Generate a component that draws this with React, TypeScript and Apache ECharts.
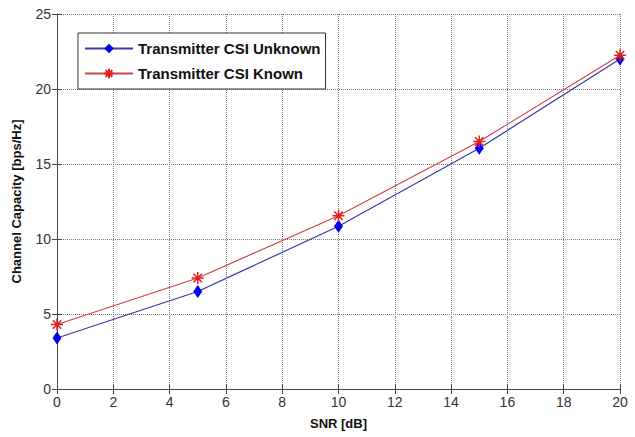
import React, { useEffect, useRef } from "react";
import * as echarts from "echarts";

const snr = [0, 5, 10, 15, 20];
const csiUnknown = [3.4, 6.5, 10.85, 16.05, 22.0];
const csiKnown = [4.3, 7.4, 11.55, 16.5, 22.25];
const xTicks = [0, 2, 4, 6, 8, 10, 12, 14, 16, 18, 20];
const yTicks = [0, 5, 10, 15, 20, 25];

const STAR = "path://M0,-6L0,6M-6,0L6,0M-4.2,-4.2L4.2,4.2M-4.2,4.2L4.2,-4.2";

export default function App() {
  const ref = useRef<HTMLDivElement>(null);
  useEffect(() => {
    if (!ref.current) return;
    const chart = echarts.init(ref.current, undefined, { renderer: "svg" });
    const tickFont = { fontFamily: "Liberation Sans", fontSize: 14, color: "#333" };
    const axisLine = { show: true, lineStyle: { color: "#444", width: 1 } };
    const gridLine = { show: true, lineStyle: { color: "#777", type: "dotted" as const, width: 1 } };
    chart.setOption({
      animation: false,
      backgroundColor: "#fff",
      grid: { left: 57, right: 15, top: 14, bottom: 48, show: false },
      legend: {
        orient: "vertical",
        left: 78,
        top: 33,
        padding: [8, 5, 8, 6],
        itemGap: 10,
        itemWidth: 48,
        itemHeight: 12,
        borderColor: "#333",
        borderWidth: 1,
        backgroundColor: "#fff",
        textStyle: { fontFamily: "Liberation Sans", fontWeight: "bold", fontSize: 15, color: "#111" },
        data: ["Transmitter CSI Unknown", "Transmitter CSI Known"],
      },
      xAxis: [
        {
          type: "value",
          min: 0,
          max: 20,
          interval: 2,
          name: "SNR [dB]",
          nameLocation: "middle",
          nameGap: 28,
          nameTextStyle: { fontFamily: "Liberation Sans", fontWeight: "bold", fontSize: 13, color: "#111" },
          axisLine,
          axisTick: { show: true, inside: true, length: 5, lineStyle: { color: "#444" } },
          axisLabel: { ...tickFont, margin: 6, formatter: (v: number) => (xTicks.includes(v) ? String(v) : "") },
          splitLine: gridLine,
        },
        {
          type: "value",
          position: "top",
          min: 0,
          max: 20,
          interval: 2,
          axisLine,
          axisTick: { show: true, inside: true, length: 5, lineStyle: { color: "#444" } },
          axisLabel: { show: false },
          splitLine: { show: false },
        },
      ],
      yAxis: [
        {
          type: "value",
          min: 0,
          max: 25,
          interval: 5,
          name: "Channel Capacity [bps/Hz]",
          nameLocation: "middle",
          nameGap: 34,
          nameTextStyle: { fontFamily: "Liberation Sans", fontWeight: "bold", fontSize: 13, color: "#111" },
          axisLine,
          axisTick: { show: true, inside: true, length: 5, lineStyle: { color: "#444" } },
          axisLabel: { ...tickFont, margin: 6, formatter: (v: number) => (yTicks.includes(v) ? String(v) : "") },
          splitLine: gridLine,
        },
        {
          type: "value",
          position: "right",
          min: 0,
          max: 25,
          interval: 5,
          axisLine,
          axisTick: { show: true, inside: true, length: 5, lineStyle: { color: "#444" } },
          axisLabel: { show: false },
          splitLine: { show: false },
        },
      ],
      series: [
        {
          name: "Transmitter CSI Unknown",
          type: "line",
          data: snr.map((x, i) => [x, csiUnknown[i]]),
          symbol: "diamond",
          symbolSize: [9, 13],
          lineStyle: { color: "#3a3aa8", width: 1.2 },
          itemStyle: { color: "#0000ee" },
          z: 2,
        },
        {
          name: "Transmitter CSI Known",
          type: "line",
          data: snr.map((x, i) => [x, csiKnown[i]]),
          symbol: STAR,
          symbolSize: 12,
          lineStyle: { color: "#cc4444", width: 1.2 },
          itemStyle: { color: "transparent", borderColor: "#e02020", borderWidth: 1.5 },
          z: 3,
        },
      ],
    });
    return () => chart.dispose();
  }, []);
  return <div ref={ref} style={{ width: 635, height: 437, position: "absolute", left: 0, top: 0 }} />;
}
